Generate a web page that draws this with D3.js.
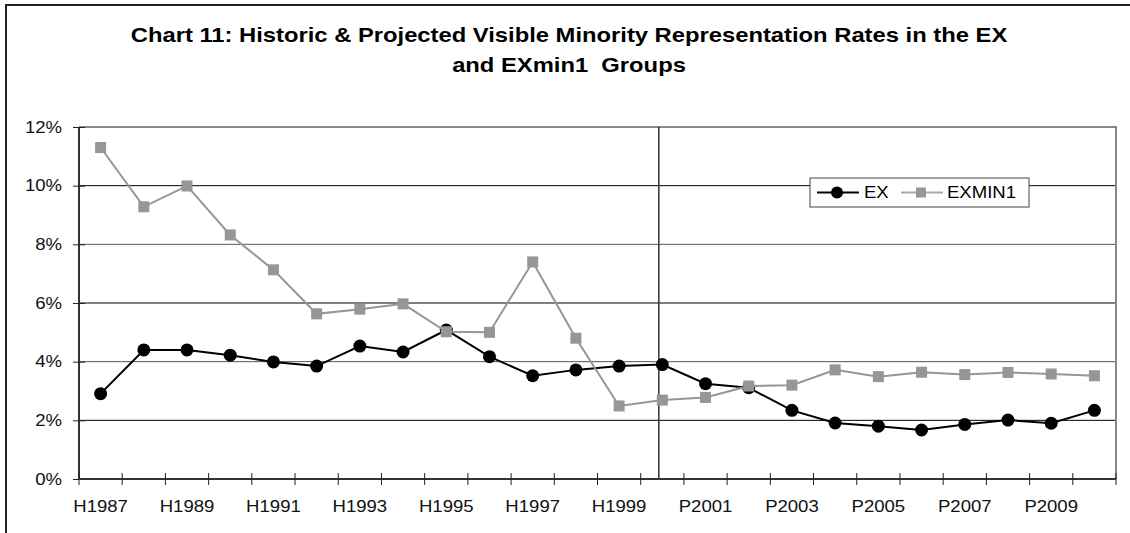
<!DOCTYPE html>
<html>
<head>
<meta charset="utf-8">
<script src="https://cdn.jsdelivr.net/npm/d3@7"></script>
<style>
  body { margin: 0; background: white; }
  text { font-family: "Liberation Sans", Arial, sans-serif; fill: black; }
</style>
</head>
<body>
<svg id="chart" width="1130" height="533"></svg>
<script>
// categories (half years historic, then projected)
var categories = ["H1987","H1988","H1989","H1990","H1991","H1992","H1993","H1994","H1995","H1996",
  "H1997","H1998","H1999","H2000","P2001","P2002","P2003","P2004","P2005","P2006","P2007","P2008","P2009","P2010"];
// representation rates in percent
var exValues = [2.91,4.40,4.40,4.22,3.99,3.85,4.53,4.33,5.08,4.17,3.52,3.72,3.85,3.90,
  3.25,3.11,2.34,1.91,1.80,1.67,1.86,2.01,1.90,2.34];
var exmin1Values = [11.3,9.28,9.99,8.32,7.13,5.63,5.79,5.97,5.02,5.00,7.40,4.80,2.49,2.69,
  2.78,3.17,3.20,3.72,3.49,3.64,3.56,3.63,3.58,3.52];
var yTicks = [0,2,4,6,8,10,12];
var splitAt = "H2000";
var titleLines = ["Chart 11: Historic & Projected Visible Minority Representation Rates in the EX",
  "and EXmin1  Groups"];
var seriesNames = ["EX","EXMIN1"];

var svg = d3.select("#chart");
var sx = 1.16; // text in the original is a bit stretched sideways

var margin = { top: 127, right: 14, bottom: 54, left: 79 };
var width = 1130 - margin.left - margin.right;
var height = 533 - margin.top - margin.bottom;

// outer frame (only left and top edges are visible)
svg.append("path")
    .attr("d", "M6,533 L6,5 L1130,5")
    .attr("fill", "none")
    .attr("stroke", "#222")
    .attr("stroke-width", 2);

// title
svg.append("g").selectAll("text")
    .data(titleLines)
    .enter().append("text")
      .attr("transform", function(d, i) { return "translate(569," + (42 + i * 30) + ") scale(" + sx + ",1)"; })
      .attr("text-anchor", "middle")
      .style("font-size", "20.5px")
      .style("font-weight", "bold")
      .style("white-space", "pre")
      .text(function(d) { return d; });

var x = d3.scaleBand()
    .domain(categories)
    .range([0, width]);

var y = d3.scaleLinear()
    .domain([0, 12])
    .range([height, 0]);

var group = svg.append("g")
    .attr("transform", "translate(" + margin.left + "," + margin.top + ")");

// gridlines
group.selectAll(".grid")
    .data(yTicks.filter(function(d) { return d > 0 && d < 12; }))
    .enter().append("line")
      .attr("x1", 0).attr("x2", width)
      .attr("y1", function(d) { return y(d); })
      .attr("y2", function(d) { return y(d); })
      .attr("stroke", function(d) { return d % 4 === 0 ? "#555" : "#000"; })
      .attr("stroke-width", 1);

// top and right border of the plot
group.append("path")
    .attr("d", "M0," + y(12) + " L" + width + "," + y(12) + " L" + width + "," + height)
    .attr("fill", "none")
    .attr("stroke", "#888")
    .attr("stroke-width", 2);

// projection divider
var splitX = x(splitAt) + x.bandwidth() / 2 - 3.5;
group.append("line")
    .attr("x1", splitX).attr("x2", splitX)
    .attr("y1", y(12)).attr("y2", height)
    .attr("stroke", "#333")
    .attr("stroke-width", 1.5);

// y axis
var yAxis = group.append("g")
    .call(d3.axisLeft(y).tickValues(yTicks).tickSize(6).tickFormat(function(d) { return d + "%"; }));
yAxis.selectAll(".tick line").attr("x1", 6).attr("x2", -6).attr("stroke", "#222");
yAxis.select(".domain").attr("stroke", "#333").attr("stroke-width", 2).attr("d", "M0," + y(12) + "V" + height);
yAxis.selectAll("text")
    .attr("x", -17 / sx)
    .attr("transform", "scale(" + sx + ",1)")
    .style("font-size", "16px")
    .style("fill", "#111");

// x axis: labels at every other category, ticks on band edges
var xAxis = group.append("g")
    .attr("transform", "translate(0," + height + ")")
    .call(d3.axisBottom(x).tickSize(0).tickFormat(function(d, i) { return i % 2 === 0 && i !== 13 ? d : ""; }));
xAxis.select(".domain").attr("stroke", "#333").attr("stroke-width", 2).attr("d", "M0,0H" + width);
xAxis.selectAll("text")
    .attr("y", 33)
    .attr("dy", null)
    .attr("transform", "scale(" + sx + ",1)")
    .style("font-size", "16px")
    .style("fill", "#111");
xAxis.selectAll(".edge")
    .data(categories.concat(["end"]))
    .enter().append("line")
      .attr("class", "edge")
      .attr("x1", function(d) { return d === "end" ? width : x(d); })
      .attr("x2", function(d) { return d === "end" ? width : x(d); })
      .attr("y1", -6).attr("y2", 6)
      .attr("stroke", "#222");

function cx(d, i) { return x(categories[i]) + x.bandwidth() / 2; }

var line = d3.line()
    .x(function(d, i) { return cx(d, i); })
    .y(function(d) { return y(d); });

// EX series
group.append("path")
    .datum(exValues)
    .attr("d", line)
    .attr("fill", "none")
    .attr("stroke", "#000")
    .attr("stroke-width", 2);
group.selectAll(".ex")
    .data(exValues)
    .enter().append("circle")
      .attr("class", "ex")
      .attr("cx", cx)
      .attr("cy", function(d) { return y(d); })
      .attr("r", 6.5)
      .attr("fill", "#000");

// EXMIN1 series
group.append("path")
    .datum(exmin1Values)
    .attr("d", line)
    .attr("fill", "none")
    .attr("stroke", "#969696")
    .attr("stroke-width", 2);
group.selectAll(".exmin1")
    .data(exmin1Values)
    .enter().append("rect")
      .attr("class", "exmin1")
      .attr("x", function(d, i) { return cx(d, i) - 5.5; })
      .attr("y", function(d) { return y(d) - 5.5; })
      .attr("width", 11)
      .attr("height", 11)
      .attr("fill", "#969696");

// legend
var legend = svg.append("g").attr("transform", "translate(810,178)");
legend.append("rect")
    .attr("width", 219).attr("height", 29)
    .attr("fill", "white")
    .attr("stroke", "#444")
    .attr("stroke-width", 1);
legend.append("line").attr("x1", 7).attr("x2", 49).attr("y1", 14.5).attr("y2", 14.5)
    .attr("stroke", "#000").attr("stroke-width", 2);
legend.append("circle").attr("cx", 27).attr("cy", 14.5).attr("r", 6).attr("fill", "#000");
legend.append("line").attr("x1", 91).attr("x2", 133).attr("y1", 14.5).attr("y2", 14.5)
    .attr("stroke", "#aaa").attr("stroke-width", 2);
legend.append("rect").attr("x", 106).attr("y", 9.5).attr("width", 10).attr("height", 10).attr("fill", "#969696");
legend.selectAll(".lbl")
    .data(seriesNames)
    .enter().append("text")
      .attr("class", "lbl")
      .attr("transform", function(d, i) { return "translate(" + (i === 0 ? 54 : 137) + ",20) scale(" + sx + ",1)"; })
      .style("font-size", "16px")
      .text(function(d) { return d; });
</script>
</body>
</html>
